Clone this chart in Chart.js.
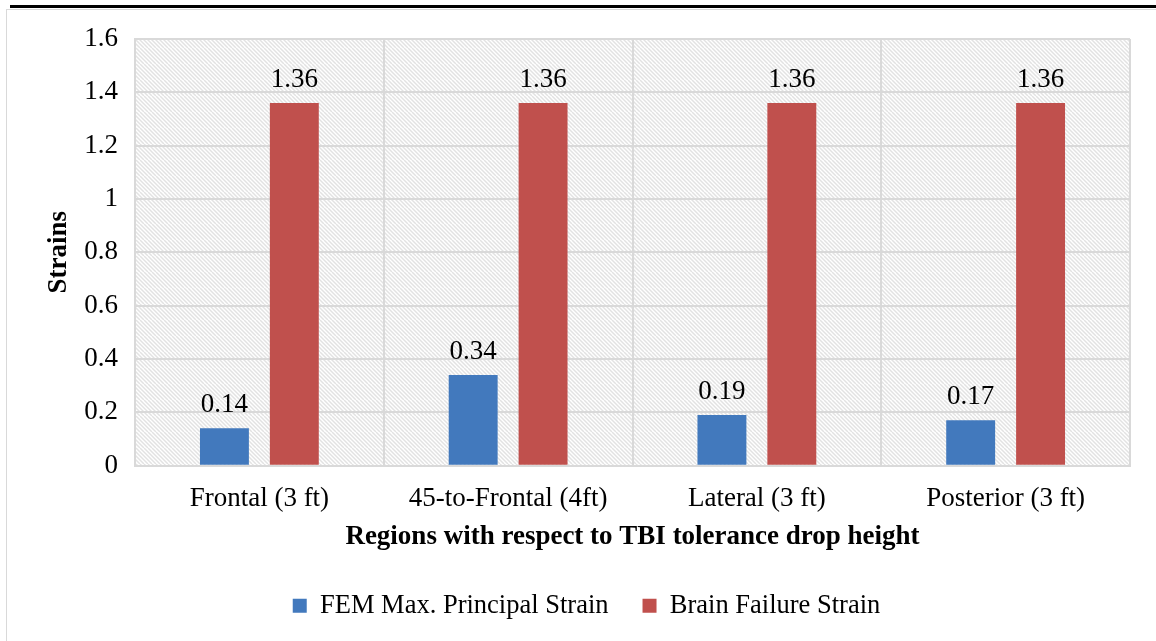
<!DOCTYPE html>
<html>
<head>
<meta charset="utf-8">
<script src="https://cdn.jsdelivr.net/npm/chart.js@4"></script>
<style>
  body { margin: 0; background: #fff; }
  .wrap { position: relative; width: 1156px; height: 641px; overflow: hidden; }
  .topline { position: absolute; left: 10px; right: 0; top: 5px; height: 3px; background: #000; }
  .frame { position: absolute; left: 6px; top: 9px; width: 1200px; height: 700px; border: 1px solid #d9d9d9; }
  canvas { position: absolute; left: 0; top: 0; }
</style>
</head>
<body>
<div class="wrap">
  <div class="topline"></div>
  <div class="frame"></div>
  <canvas id="chart" width="1156" height="641"></canvas>
</div>
<script>
// data
const regions = ['Frontal (3 ft)', '45-to-Frontal (4ft)', 'Lateral (3 ft)', 'Posterior (3 ft)'];
const femStrain = [0.14, 0.34, 0.19, 0.17];
const failureStrain = [1.36, 1.36, 1.36, 1.36];
const yTicks = [0, 0.2, 0.4, 0.6, 0.8, 1, 1.2, 1.4, 1.6];

const serif = "'Liberation Serif', 'Times New Roman', serif";

// hatched background for the plot area
function makeHatch() {
    const c = document.createElement('canvas');
    c.width = 16; c.height = 16;
    const g = c.getContext('2d');
    g.fillStyle = '#ffffff';
    g.fillRect(0, 0, 16, 16);
    g.strokeStyle = '#e2e2e2';
    g.lineWidth = 1.5;
    for (let k = -16; k <= 16; k += 4) {
        g.beginPath();
        g.moveTo(k, 0);
        g.lineTo(k + 16, 16);
        g.stroke();
    }
    return c;
}

const hatchBg = {
    id: 'hatchBg',
    beforeDraw(chart) {
        const {ctx, chartArea: a} = chart;
        ctx.save();
        ctx.fillStyle = ctx.createPattern(makeHatch(), 'repeat');
        ctx.fillRect(a.left, a.top, a.right - a.left, a.bottom - a.top);
        ctx.restore();
    }
};

// value labels above bars
const barLabels = {
    id: 'barLabels',
    afterDatasetsDraw(chart) {
        const ctx = chart.ctx;
        ctx.save();
        ctx.font = '27px ' + serif;
        ctx.fillStyle = '#000';
        ctx.textAlign = 'center';
        ctx.textBaseline = 'alphabetic';
        chart.data.datasets.forEach((ds, i) => {
            chart.getDatasetMeta(i).data.forEach((bar, j) => {
                ctx.fillText(ds.data[j].toFixed(2), bar.x, bar.y - 16);
            });
        });
        ctx.restore();
    }
};

const ctx = document.querySelector('#chart').getContext('2d');
new Chart(ctx, {
    type: 'bar',
    data: {
        labels: regions,
        datasets: [
            {
                label: 'FEM Max. Principal Strain',
                data: femStrain,
                backgroundColor: '#4279bd',
                categoryPercentage: 0.562,
                barPercentage: 0.7
            },
            {
                label: 'Brain Failure Strain',
                data: failureStrain,
                backgroundColor: '#c0504d',
                categoryPercentage: 0.562,
                barPercentage: 0.7
            }
        ]
    },
    options: {
        responsive: false,
        animation: false,
        layout: { padding: { left: 43, right: 26, top: 39, bottom: 12 } },
        plugins: {
            legend: {
                position: 'bottom',
                labels: {
                    font: { family: serif, size: 26.5 },
                    color: '#000',
                    boxWidth: 14,
                    boxHeight: 14,
                    padding: 34
                }
            },
            tooltip: { enabled: false }
        },
        scales: {
            x: {
                grid: { color: '#d9d9d9', lineWidth: 2, drawTicks: false },
                border: { color: '#d9d9d9', width: 2 },
                ticks: { font: { family: serif, size: 27 }, color: '#000', padding: 17 },
                title: {
                    display: true,
                    text: 'Regions with respect to TBI tolerance drop height',
                    font: { family: serif, size: 27, weight: 'bold' },
                    color: '#000',
                    padding: { top: -11, bottom: 5 }
                }
            },
            y: {
                min: 0,
                max: 1.6,
                afterBuildTicks: (scale) => { scale.ticks = yTicks.map(v => ({ value: v })); },
                afterFit: (scale) => { scale.width = 92; },
                grid: { color: '#d9d9d9', lineWidth: 2, drawTicks: false },
                border: { color: '#d9d9d9', width: 2 },
                ticks: {
                    font: { family: serif, size: 27 },
                    color: '#000',
                    padding: 17,
                    callback: (v) => String(v)
                },
                title: {
                    display: true,
                    text: 'Strains',
                    font: { family: serif, size: 27, weight: 'bold' },
                    color: '#000',
                    padding: { top: 0, bottom: 0 }
                }
            }
        }
    },
    plugins: [hatchBg, barLabels]
});
</script>
</body>
</html>
